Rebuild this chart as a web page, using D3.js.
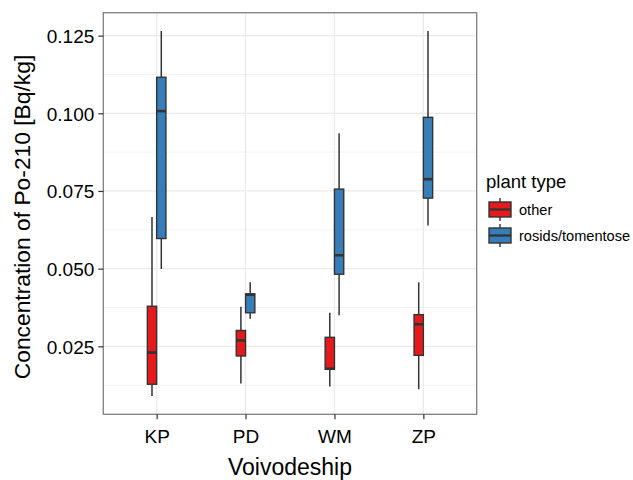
<!DOCTYPE html>
<html>
<head>
<meta charset="utf-8">
<script src="https://cdn.jsdelivr.net/npm/d3@7"></script>
<style>
    body { margin: 0; background: #fff; }
    text { font-family: "Liberation Sans", Arial, sans-serif; }
</style>
</head>
<body>
<svg id="chart" width="633" height="480"></svg>
<script>
// Categories and groups
const voivodeships = ['KP', 'PD', 'WM', 'ZP'];
const plantTypes = ['other', 'rosids/tomentose'];
const yTicks = [0.025, 0.050, 0.075, 0.100, 0.125];

// Box stats per group, one value per voivodeship
const otherMin    = [0.0090, 0.0130, 0.0121, 0.0112];
const otherLower  = [0.0128, 0.0219, 0.0176, 0.0221];
const otherMedian = [0.0230, 0.0269, 0.0178, 0.0321];
const otherUpper  = [0.0379, 0.0301, 0.0279, 0.0352];
const otherMax    = [0.0666, 0.0377, 0.0358, 0.0456];

const rosidsMin    = [0.0499, 0.0339, 0.0350, 0.0639];
const rosidsLower  = [0.0597, 0.0358, 0.0482, 0.0727];
const rosidsMedian = [0.1007, 0.0416, 0.0543, 0.0788];
const rosidsUpper  = [0.1116, 0.0419, 0.0756, 0.0987];
const rosidsMax    = [0.1265, 0.0456, 0.0936, 0.1265];

const colors = { 'other': '#E41A1C', 'rosids/tomentose': '#377EB8' };

// Build box records from the arrays
const boxes = [];
voivodeships.forEach((v, i) => {
    boxes.push({ v, type: 'other', min: otherMin[i], lower: otherLower[i], mid: otherMedian[i], upper: otherUpper[i], max: otherMax[i] });
    boxes.push({ v, type: 'rosids/tomentose', min: rosidsMin[i], lower: rosidsLower[i], mid: rosidsMedian[i], upper: rosidsUpper[i], max: rosidsMax[i] });
});

const panel = { left: 103.3, right: 476.7, top: 12.7, bottom: 414.3 };
const svg = d3.select('#chart');

// Scales (ggplot-like expansion)
const lo = d3.min(boxes, d => d.min), hi = d3.max(boxes, d => d.max);
const pad = (hi - lo) * 0.05;
const y = d3.scaleLinear().domain([lo - pad, hi + pad]).range([panel.bottom, panel.top]);
const x = d3.scalePoint().domain(voivodeships).range([panel.left, panel.right]).padding(0.6);
const boxW = 9.3;

const g = svg.append('g');

// Grid: minor then major
const minorTicks = [];
for (let i = 0; i < yTicks.length - 1; i++) minorTicks.push((yTicks[i] + yTicks[i + 1]) / 2);
minorTicks.unshift(yTicks[0] - (yTicks[1] - yTicks[0]) / 2);
g.selectAll('.minor').data(minorTicks.filter(t => t > y.domain()[0] && t < y.domain()[1]))
    .enter().append('line')
    .attr('x1', panel.left).attr('x2', panel.right)
    .attr('y1', d => y(d)).attr('y2', d => y(d))
    .attr('stroke', '#f2f2f2').attr('stroke-width', 1);
g.selectAll('.major-y').data(yTicks).enter().append('line')
    .attr('x1', panel.left).attr('x2', panel.right)
    .attr('y1', d => y(d)).attr('y2', d => y(d))
    .attr('stroke', '#ebebeb').attr('stroke-width', 1.3);
g.selectAll('.major-x').data(voivodeships).enter().append('line')
    .attr('x1', d => x(d)).attr('x2', d => x(d))
    .attr('y1', panel.top).attr('y2', panel.bottom)
    .attr('stroke', '#ebebeb').attr('stroke-width', 1.3);

// Boxes
const off = t => (t === 'other' ? -boxW / 2 : boxW / 2);
const bx = g.selectAll('.box').data(boxes).enter().append('g')
    .attr('transform', d => `translate(${x(d.v) + off(d.type)},0)`);
bx.append('line')
    .attr('y1', d => y(d.max)).attr('y2', d => y(d.upper))
    .attr('stroke', '#333').attr('stroke-width', 1.5);
bx.append('line')
    .attr('y1', d => y(d.lower)).attr('y2', d => y(d.min))
    .attr('stroke', '#333').attr('stroke-width', 1.5);
bx.append('rect')
    .attr('x', -boxW / 2).attr('width', boxW)
    .attr('y', d => y(d.upper)).attr('height', d => y(d.lower) - y(d.upper))
    .attr('fill', d => colors[d.type])
    .attr('stroke', '#333').attr('stroke-width', 1.4);
bx.append('line')
    .attr('x1', -boxW / 2).attr('x2', boxW / 2)
    .attr('y1', d => y(d.mid)).attr('y2', d => y(d.mid))
    .attr('stroke', '#333').attr('stroke-width', 2.6);

// Panel border
svg.append('rect')
    .attr('x', panel.left).attr('y', panel.top)
    .attr('width', panel.right - panel.left).attr('height', panel.bottom - panel.top)
    .attr('fill', 'none').attr('stroke', '#7f7f7f').attr('stroke-width', 1.3);

// Axes
const yAxis = svg.append('g').attr('transform', `translate(${panel.left},0)`)
    .call(d3.axisLeft(y).tickValues(yTicks).tickFormat(d3.format('.3f')).tickSize(5).tickPadding(4));
const xAxis = svg.append('g').attr('transform', `translate(0,${panel.bottom})`)
    .call(d3.axisBottom(x).tickSize(5).tickPadding(10));
[yAxis, xAxis].forEach(a => {
    a.select('.domain').remove();
    a.selectAll('.tick line').attr('stroke', '#333').attr('stroke-width', 1.2);
    a.selectAll('.tick text').attr('fill', '#000').style('font-size', '19px')
        .style('font-family', '"Liberation Sans", Arial, sans-serif');
});
yAxis.selectAll('.tick text').attr('dy', '0.36em');

// Axis titles
svg.append('text')
    .attr('transform', 'translate(30,217) rotate(-90)')
    .attr('text-anchor', 'middle')
    .style('font-size', '22.8px')
    .text('Concentration of Po-210 [Bq/kg]');
svg.append('text')
    .attr('x', (panel.left + panel.right) / 2).attr('y', 475)
    .attr('text-anchor', 'middle')
    .style('font-size', '23px')
    .text('Voivodeship');

// Legend
const legend = svg.append('g').attr('transform', 'translate(486,0)');
legend.append('text').attr('x', 0).attr('y', 188).style('font-size', '18.5px').text('plant type');
const keys = legend.selectAll('.key').data(plantTypes).enter().append('g')
    .attr('transform', (d, i) => `translate(2,${198 + i * 26})`);
keys.append('line').attr('x1', 12).attr('x2', 12).attr('y1', 0).attr('y2', 23)
    .attr('stroke', '#333').attr('stroke-width', 1.4);
keys.append('rect').attr('x', 1).attr('y', 4).attr('width', 22).attr('height', 15)
    .attr('fill', d => colors[d]).attr('stroke', '#333').attr('stroke-width', 1.4);
keys.append('line').attr('x1', 1).attr('x2', 23).attr('y1', 11.5).attr('y2', 11.5)
    .attr('stroke', '#333').attr('stroke-width', 2.2);
keys.append('text').attr('x', 31).attr('y', 17).style('font-size', '14.6px').text(d => d);
</script>
</body>
</html>
